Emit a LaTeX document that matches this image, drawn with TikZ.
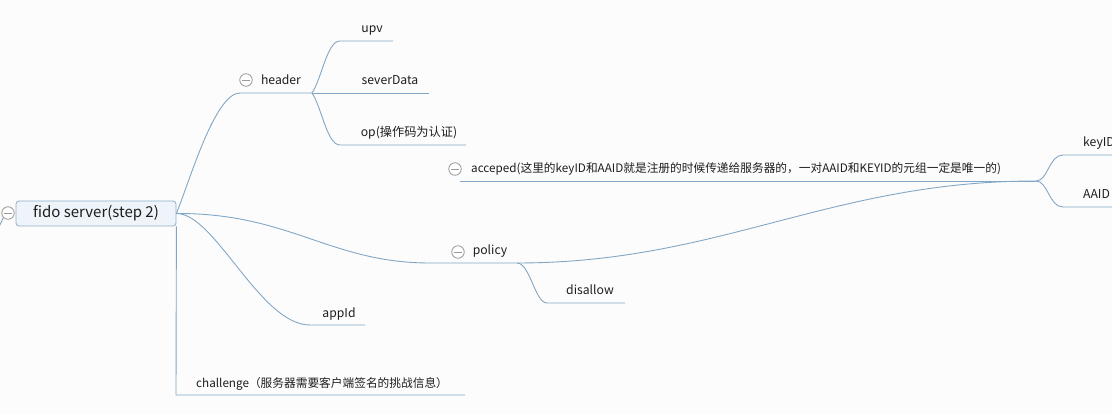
\documentclass[tikz,border=0pt]{standalone}
\usepackage{fontspec}
\setmainfont{Noto Sans CJK SC}
\definecolor{linkblue}{HTML}{82A7C6}
\definecolor{rootfill}{HTML}{EEF4F9}
\definecolor{rootline}{HTML}{8DAFCB}
\definecolor{foldgray}{HTML}{9A9A9A}
\definecolor{paper}{HTML}{FCFCFC}
\definecolor{ink}{HTML}{1E1E1E}
\begin{document}
\begin{tikzpicture}[x=1pt,y=-1pt,
  topic/.style={font=\fontsize{12.2}{14}\selectfont,text=ink,inner sep=0pt,anchor=base},
  longtopic/.style={topic,font=\fontsize{11.7}{14}\selectfont},
  link/.style={draw=linkblue,line width=0.9pt},
  fold/.style={circle,draw=foldgray,fill=white,minimum size=12.5pt,inner sep=0pt,line width=0.8pt,
    path picture={\draw[foldgray,line width=0.8pt]
      ([xshift=-3.8pt]path picture bounding box.center) -- ([xshift=3.8pt]path picture bounding box.center);}}]
% canvas, in screen pixels (y grows downwards)
\fill[paper] (0,0) rectangle (1112,414);
\useasboundingbox (0,0) rectangle (1112,414);
% root topic
\node[draw=rootline,fill=rootfill,rounded corners=3pt,line width=0.8pt,minimum width=160pt,minimum height=25pt,
  font=\fontsize{15}{17}\selectfont,text=ink] (root) at (96,213.5) {fido server(step 2)};
\node[fold] (rootfold) at (8,213) {};
\coordinate (up) at (-2,229);
\draw[link] (up) -- (rootfold.south west);
% labels: name/style/x/baseline/anchor/text
\foreach \name/\sty/\x/\y/\anc/\txt in {
  header/topic/281/85/base/header, upv/topic/372/33/base/upv, severData/topic/390/85/base/severData,
  op/topic/409/137/base/{op(操作码为认证)},
  acceped/longtopic/471/173/base west/{acceped(这里的keyID和AAID就是注册的时候传递给服务器的，一对AAID和KEYID的元组一定是唯一的)},
  keyID/topic/1083/147/base west/keyID, AAID/topic/1083/199/base west/AAID,
  policy/topic/490/255/base/policy, disallow/topic/590/295/base/disallow, appId/topic/339/317/base/appId,
  challenge/longtopic/196/387/base west/{challenge（服务器需要客户端签名的挑战信息）}}{
  \node[\sty,anchor=\anc] (\name) at (\x,\y) {\txt};}
% fold markers
\node[fold] (headerfold) at (246,80) {};
\node[fold] (accepedfold) at (455,169) {};
\node[fold] (policyfold) at (458,252) {};
% underline ends
\foreach \name/\xa/\xb/\y in {header/240/312/93, upv/340/393/41, severData/312/429/93, op/340/466/145,
  acceped/460/1036/181, keyID/1063/1120/155, AAID/1063/1120/207,
  policy/430/517/263, disallow/547/625/303, appId/310/365/325, challenge/176/465/395}{
  \coordinate (\name-l) at (\xa,\y);
  \coordinate (\name-r) at (\xb,\y);}
% branches
\draw[link] (root.east) .. controls (190,180) and (215,93) .. (header-l) -- (header-r);
\draw[link] (header-r) .. controls (322,78) and (327,41) .. (upv-l) -- (upv-r);
\draw[link] (header-r) -- (severData-r);
\draw[link] (header-r) .. controls (322,108) and (327,145) .. (op-l) -- (op-r);
\draw[link] (root.east) .. controls (290,213) and (330,263) .. (policy-l) -- (policy-r);
\draw[link] (policy-r) .. controls (530,263) and (535,303) .. (disallow-l) -- (disallow-r);
\draw[link] (policy-r) .. controls (720,263) and (830,181) .. (acceped-r);
\draw[link] (acceped-l) -- (acceped-r);
\draw[link] (acceped-r) .. controls (1048,181) and (1049,155) .. (keyID-l) -- (keyID-r);
\draw[link] (acceped-r) .. controls (1048,181) and (1049,207) .. (AAID-l) -- (AAID-r);
\draw[link] (root.east) .. controls (215,213) and (260,325) .. (appId-l) -- (appId-r);
\draw[link] (root.south east) -- (challenge-l) -- (challenge-r);
\end{tikzpicture}
\end{document}
